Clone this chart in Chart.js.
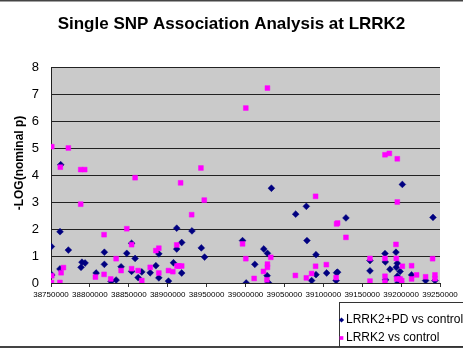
<!DOCTYPE html>
<html>
<head>
<meta charset="utf-8">
<script src="https://cdn.jsdelivr.net/npm/chart.js@4.4.1/dist/chart.umd.min.js"></script>
<style>
  body { margin: 0; background: #fff; }
  canvas { display: block; }
</style>
</head>
<body>
<canvas id="snpChart" width="463" height="356"></canvas>
<script>
const chartTitle = 'Single SNP Association Analysis at LRRK2';
const yTitle = '-LOG(nominal p)';
const seriesNames = ['LRRK2+PD vs control', 'LRRK2 vs control'];
const xTicks = [38750000, 38800000, 38850000, 38900000, 38950000, 39000000,
    39050000, 39100000, 39150000, 39200000, 39250000];
const yTicks = [0, 1, 2, 3, 4, 5, 6, 7, 8];

// LRRK2+PD vs control (navy diamonds)
const pdPos = [38750500, 38751000, 38761600, 38762500, 38761500, 38772300, 38788600, 38789800,
    38793800, 38808000, 38818600, 38818600, 38827200, 38833700, 38840100, 38847400,
    38853600, 38858100, 38853600, 38862000, 38866700, 38877500, 38884800, 38888600,
    38888600, 38901000, 38907400, 38911600, 38911600, 38918000, 38918000, 38931200,
    38943200, 38947400, 38996200, 39023500, 39028200, 39012000, 39027800, 39029500,
    39000900, 39033300, 39064500, 39078200, 39079000, 39090600, 39090600, 39085000,
    39104300, 39129100, 39117000, 39118400, 39116500, 39160000, 39160000, 39201600,
    39179300, 39193400, 39179700, 39195100, 39193800, 39198700, 39185700, 39180100,
    39195100, 39196400, 39199000, 39213500, 39231500, 39241000, 39243500];
const pdVal = [1.35, 0.30, 1.90, 4.38, 0.52, 1.22, 0.58, 0.77,
    0.74, 0.37, 1.14, 0.69, 0.06, 0.11, 0.60, 1.10,
    1.47, 0.91, 0.43, 0.20, 0.41, 0.38, 0.64, 1.08,
    0.19, 0.07, 0.75, 2.03, 1.26, 1.50, 0.37, 1.93,
    1.30, 0.96, 1.57, 1.26, 1.10, 0.69, 0.27, 0.01,
    0.00, 3.51, 2.55, 2.84, 1.57, 1.05, 0.31, 0.09,
    0.37, 2.41, 0.38, 0.40, 0.09, 0.83, 0.45, 3.65,
    1.09, 1.14, 0.78, 0.73, 0.58, 0.43, 0.51, 0.12,
    0.25, 0.02, 0.06, 0.30, 0.09, 2.43, 0.09];

// LRRK2 vs control (magenta squares)
const ctlPos = [38751000, 38751000, 38750500, 38762000, 38763000, 38761500, 38766000, 38772300,
    38788200, 38793300, 38788200, 38818200, 38818200, 38807100, 38826800, 38833700,
    38840100, 38847400, 38853600, 38858100, 38853600, 38862000, 38866700, 38877500,
    38884800, 38888600, 38888600, 38901000, 38906600, 38911600, 38912000, 38914500,
    38918000, 38916600, 38930800, 39028200, 39000400, 38942700, 38947000, 38996200,
    39032500, 39000400, 39028200, 39028200, 39023100, 39011100, 39027500, 39064100,
    39078200, 39090100, 39090100, 39085000, 39103900, 39117100, 39118400, 39129100,
    39116500, 39160000, 39160000, 39179300, 39184900, 39195100, 39195100, 39193400,
    39179300, 39193800, 39201600, 39179300, 39179300, 39194300, 39198700, 39200800,
    39213500, 39213500, 39219900, 39231500, 39240500, 39243500, 39243500];
const ctlVal = [5.05, 0.27, 0.02, 4.29, 0.38, 0.02, 0.57, 5.00,
    4.20, 4.20, 2.92, 1.79, 0.32, 0.22, 0.15, 0.90,
    0.46, 2.01, 1.42, 3.90, 0.53, 0.46, 0.09, 0.58,
    1.20, 1.29, 0.37, 0.46, 0.42, 1.41, 0.63, 0.63,
    0.63, 3.71, 2.53, 7.22, 6.48, 4.26, 3.07, 1.45,
    0.95, 0.90, 0.70, 0.58, 0.43, 0.17, 0.12, 0.28,
    0.19, 3.21, 0.62, 0.35, 0.68, 2.19, 2.22, 1.69,
    0.20, 0.91, 0.07, 4.75, 4.80, 4.60, 3.00, 1.43,
    0.91, 0.91, 0.62, 0.25, 0.04, 0.15, 0.15, 0.09,
    0.64, 0.15, 0.30, 0.23, 0.90, 0.30, 0.16];

const FONT = "'Liberation Sans', Arial, sans-serif";

function toPoints(pos, val) {
    return pos.map((p, i) => ({ x: p, y: val[i] }));
}

// grey plot area, y title, sheet border lines and the boxed legend
const sheetDecor = {
    id: 'sheetDecor',
    beforeDraw(chart) {
        const c = chart.ctx;
        const a = chart.chartArea;
        c.save();
        c.fillStyle = '#fff';
        c.fillRect(0, 0, chart.width, chart.height);
        c.fillStyle = '#cacaca';
        c.fillRect(a.left, a.top, a.right - a.left, a.bottom - a.top);
        c.restore();
    },
    afterDraw(chart) {
        const c = chart.ctx;
        c.save();
        c.translate(20, 163);
        c.rotate(-Math.PI / 2);
        c.font = 'bold 12px ' + FONT;
        c.fillStyle = '#000';
        c.textAlign = 'center';
        c.textBaseline = 'middle';
        c.fillText(yTitle, 0, 0);
        c.restore();

        c.save();
        c.fillStyle = '#444';
        c.fillRect(0, 0, chart.width, 1.5);
        c.fillRect(0, 346, chart.width, 2);

        // legend
        c.fillStyle = '#fff';
        c.fillRect(339, 302, 140, 44);
        c.strokeStyle = '#333';
        c.lineWidth = 1;
        c.strokeRect(339.5, 302.5, 140, 44);
        c.font = '12px ' + FONT;
        c.textBaseline = 'middle';
        chart.data.datasets.forEach((ds, i) => {
            const y = 320 + i * 18;
            c.fillStyle = ds.backgroundColor;
            Chart.helpers.drawPoint(c, {
                pointStyle: ds.pointStyle, radius: 2.6, rotation: 0, borderWidth: 0
            }, 341.5, y);
            c.fillStyle = '#000';
            c.fillText(ds.label, 346, y);
        });
        c.restore();
    }
};

const ctx = document.getElementById('snpChart').getContext('2d');

new Chart(ctx, {
    type: 'scatter',
    data: {
        datasets: [
            {
                label: seriesNames[0],
                data: toPoints(pdPos, pdVal),
                pointStyle: 'rectRot',
                pointRadius: 3.4,
                backgroundColor: '#000080',
                borderColor: '#000080',
                borderWidth: 0.5,
                order: 1
            },
            {
                label: seriesNames[1],
                data: toPoints(ctlPos, ctlVal),
                pointStyle: 'rect',
                pointRadius: 3.4,
                backgroundColor: '#ff00ff',
                borderColor: '#ff00ff',
                borderWidth: 0.5,
                order: 0
            }
        ]
    },
    options: {
        responsive: false,
        animation: false,
        events: [],
        layout: {
            padding: { left: 23, right: 23, top: 0, bottom: 53 }
        },
        plugins: {
            legend: { display: false },
            tooltip: { enabled: false },
            title: {
                display: true,
                text: chartTitle,
                color: '#000',
                font: { family: FONT, size: 17, weight: 'bold' },
                padding: { top: 14, bottom: 32.6 }
            }
        },
        scales: {
            x: {
                type: 'linear',
                min: 38750000,
                max: 39250000,
                afterBuildTicks: scale => { scale.ticks = xTicks.map(v => ({ value: v })); },
                afterFit: scale => { scale.height = 20; },
                grid: {
                    drawOnChartArea: false,
                    drawTicks: true,
                    tickLength: 4,
                    color: '#333'
                },
                border: { color: '#222', width: 1 },
                ticks: {
                    autoSkip: false,
                    maxRotation: 0,
                    padding: 3,
                    color: '#000',
                    font: { family: FONT, size: 8 },
                    callback: v => String(v)
                }
            },
            y: {
                min: 0,
                max: 8,
                afterBuildTicks: scale => { scale.ticks = yTicks.map(v => ({ value: v })); },
                afterFit: scale => { scale.width = 28; },
                grid: {
                    color: '#222',
                    lineWidth: 1,
                    drawTicks: false
                },
                border: { color: '#222', width: 1 },
                ticks: {
                    padding: 12,
                    color: '#000',
                    font: { family: FONT, size: 13 }
                }
            }
        }
    },
    plugins: [sheetDecor]
});
</script>
</body>
</html>
